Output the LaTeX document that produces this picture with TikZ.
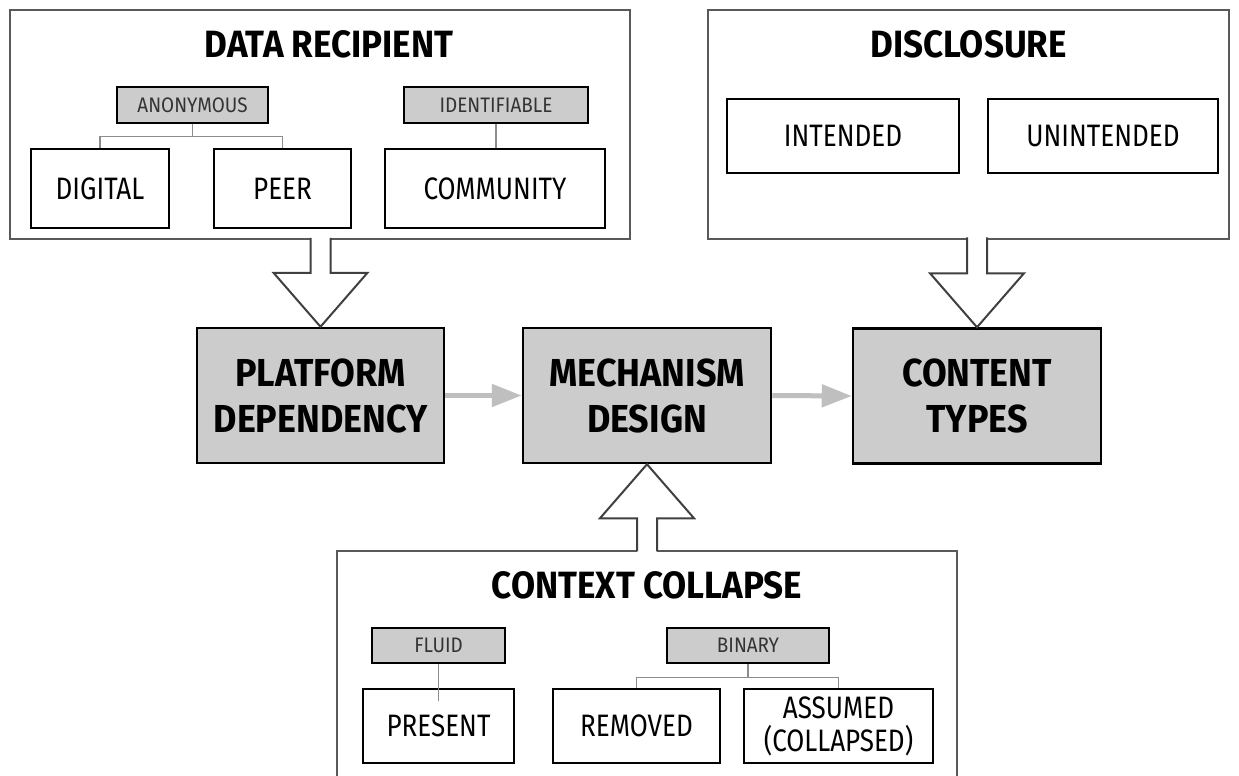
\documentclass[tikz,border=0pt]{standalone}
\usepackage{fontspec}
\setmainfont{Fira Sans}[FakeStretch=0.84]
\newfontfamily\tagfont{Fira Sans}[FakeStretch=0.9]
\newfontfamily\headfont{Fira Sans}[FakeStretch=0.92]
\usetikzlibrary{arrows.meta,calc}

\definecolor{framegray}{HTML}{595959}
\definecolor{boxgray}{HTML}{CCCCCC}
\definecolor{labelgray}{HTML}{333333}
\definecolor{linkgray}{HTML}{8C8C8C}
\definecolor{flowgray}{HTML}{BFBFBF}
\definecolor{arrowgray}{HTML}{404040}

\newcommand{\smallfont}{\tagfont\fontsize{21}{24}\selectfont}
\newcommand{\medfont}{\fontsize{31}{33}\selectfont}
\newcommand{\corefont}{\headfont\bfseries\fontsize{39}{46}\selectfont}
\newcommand{\titlefont}{\headfont\bfseries\fontsize{38}{44}\selectfont}

% hollow block arrow: tip at #1, rotated by #2, shaft length #3
\newcommand{\fatarrow}[3]{%
  \begin{scope}[shift={(#1)}, rotate=#2]
    \fill[white] (-10,-#3-6) -- (-10,-54) -- (-47,-54) -- (0,0) -- (47,-54) -- (10,-54) -- (10,-#3-6) -- cycle;
    \draw[hollowline] (-10,-#3) -- (-10,-54) -- (-47,-54) -- (0,0) -- (47,-54) -- (10,-54) -- (10,-#3);
  \end{scope}}

\tikzset{
  panelbox/.style={draw=framegray, line width=2pt, inner sep=0pt},
  tagbox/.style={draw=black, line width=2.5pt, fill=boxgray, inner sep=0pt,
    minimum height=36pt, font=\smallfont, text=labelgray},
  itembox/.style={draw=black, line width=2.5pt, fill=white, inner sep=0pt,
    font=\medfont, align=center},
  corebox/.style={draw=black, line width=2.5pt, fill=boxgray, inner sep=0pt,
    minimum width=248pt, minimum height=135pt, font=\corefont, align=center},
  headtext/.style={font=\titlefont, anchor=base, inner sep=0pt},
  linkline/.style={draw=linkgray, line width=1.5pt},
  flowarrow/.style={draw=flowgray, line width=5pt, -{Triangle[length=30pt,width=22pt]}},
  hollowline/.style={draw=arrowgray, line width=2pt, line join=miter},
}

\begin{document}
\begin{tikzpicture}[x=1pt, y=-1pt]
  \clip (0,0) rectangle (1239,776);
  \fill[white] (0,0) rectangle (1239,776);

  % outer panels
  \node[panelbox, minimum width=620pt, minimum height=229pt] (dr) at (320,124.5) {};
  \node[panelbox, minimum width=521pt, minimum height=229pt] (disc) at (968.5,124.5) {};
  \node[panelbox, minimum width=620pt, minimum height=260pt, anchor=north] (ctx) at (647,550) {};

  % central chain
  \node[corebox, minimum width=247pt] (plat) at (320.5,395.5) {PLATFORM\\DEPENDENCY};
  \node[corebox] (mech) at (647,395.5) {MECHANISM\\DESIGN};
  \node[corebox] (content) at (977,396) {CONTENT\\TYPES};
  \draw[flowarrow] (plat.east) -- (mech.west);
  \draw[flowarrow] (mech.east) -- (content.west);

  % block arrows from the panels
  \fatarrow{plat.north}{0}{89}
  \fatarrow{content.north}{0}{90}
  \fatarrow{mech.south}{180}{87}

  % data recipient
  \node[headtext] (drt) at (329,58) {DATA RECIPIENT};
  \node[tagbox, minimum width=151pt] (anon) at (192.5,105) {ANONYMOUS};
  \node[tagbox, minimum width=184pt] (ident) at (496,105) {IDENTIFIABLE};
  \node[itembox, minimum width=138pt, minimum height=79pt] (digital) at (100,188.5) {DIGITAL};
  \node[itembox, minimum width=137pt, minimum height=79pt] (peer) at (282.5,188.5) {PEER};
  \node[itembox, minimum width=220pt, minimum height=79pt] (community) at (495,188.5) {COMMUNITY};
  \draw[linkline] (anon.south) -- ++(0,12) -| (digital.north);
  \draw[linkline] ($(anon.south)+(0,12)$) -| (peer.north);
  \draw[linkline] (ident.south) -- (ident.south |- community.north);

  % disclosure
  \node[headtext] (disct) at (968.5,58) {DISCLOSURE};
  \node[itembox, minimum width=232pt, minimum height=74pt] (intended) at (843,136) {INTENDED};
  \node[itembox, minimum width=230pt, minimum height=74pt] (unintended) at (1103,136) {UNINTENDED};

  % context collapse
  \node[headtext] (ctxt) at (647,598) {CONTEXT COLLAPSE};
  \node[tagbox, minimum width=133pt, minimum height=35pt] (fluid) at (438.5,645.5) {FLUID};
  \node[tagbox, minimum width=162pt, minimum height=35pt] (binary) at (748,645.5) {BINARY};
  \node[itembox, minimum width=151pt, minimum height=74pt] (present) at (438.5,726) {PRESENT};
  \node[itembox, minimum width=167pt, minimum height=74pt] (removed) at (636.5,726) {REMOVED};
  \node[itembox, minimum width=189pt, minimum height=74pt] (assumed) at (838.5,726) {ASSUMED\\(COLLAPSED)};
  \draw[linkline] (fluid.south) -- ($(present.north)+(0,13)$);
  \draw[linkline] (binary.south) -- ++(0,13) -| (removed.north);
  \draw[linkline] ($(binary.south)+(0,13)$) -| (assumed.north);
\end{tikzpicture}
\end{document}
